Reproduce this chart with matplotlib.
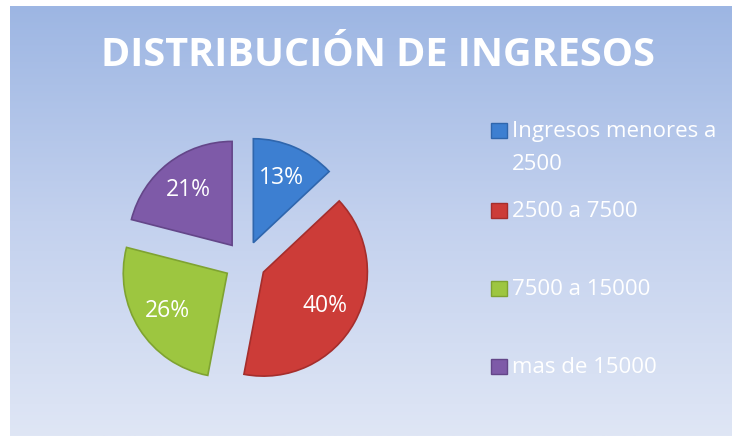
import numpy as np
import matplotlib
matplotlib.use('Agg')
import matplotlib.pyplot as plt
from matplotlib.colors import LinearSegmentedColormap

plt.rcParams['font.family'] = ['Open Sans', 'DejaVu Sans']

# Data
categories = ["Ingresos menores a\n2500", "2500 a 7500", "7500 a 15000", "mas de 15000"]
shares = [13, 40, 26, 21]
colors = ["#3d7fd1", "#cc3c38", "#9dc640", "#7e5aa8"]
edges = ["#2f66ad", "#a52e2c", "#7fa331", "#644689"]

W, H = 732, 436
fig = plt.figure(figsize=(W / 100, H / 100), dpi=100)
fig.patch.set_facecolor("white")

# gradient background panel
bg = fig.add_axes([10 / W, 0, 1 - 10 / W, (H - 6) / H])
cmap = LinearSegmentedColormap.from_list("bg", ["#9db6e3", "#c3d1ee", "#dfe6f5"])
bg.imshow(np.linspace(0, 1, 256).reshape(-1, 1), aspect="auto", cmap=cmap,
          extent=[0, 1, 0, 1], origin="upper")
bg.set_axis_off()

fig.text(378 / W, 1 - 56 / H, "DISTRIBUCIÓN DE INGRESOS", color="white",
         fontsize=28.5, fontweight="bold", ha="center", va="center")

# pie
ax = fig.add_axes([105 / W, 34 / H, 280 / W, 280 / H])
wedges, texts, autotexts = ax.pie(
    shares, colors=colors, startangle=90, counterclock=False,
    explode=[0.21] * 4, autopct="%.0f%%", pctdistance=0.68, radius=1.04,
    wedgeprops=dict(linewidth=1.2),
    textprops=dict(color="white", fontsize=16.5))
for w, e in zip(wedges, edges):
    w.set_edgecolor(e)
ax.set_xlim(-1.4, 1.4)
ax.set_ylim(-1.4, 1.4)
ax.set_aspect("equal")
ax.set_axis_off()

# legend
leg_y = [130, 210, 288, 366]
for lab, c, e, y in zip(categories, colors, edges, leg_y):
    fig.patches.append(plt.Rectangle((491 / W, 1 - (y + 8) / H), 16 / W, 15 / H,
                                     transform=fig.transFigure, facecolor=c,
                                     edgecolor=e, linewidth=1))
    fig.text(512 / W, 1 - (y - 9) / H, lab, color="white", fontsize=16,
             ha="left", va="top", linespacing=1.75)

fig.savefig("out.png", dpi=100)
